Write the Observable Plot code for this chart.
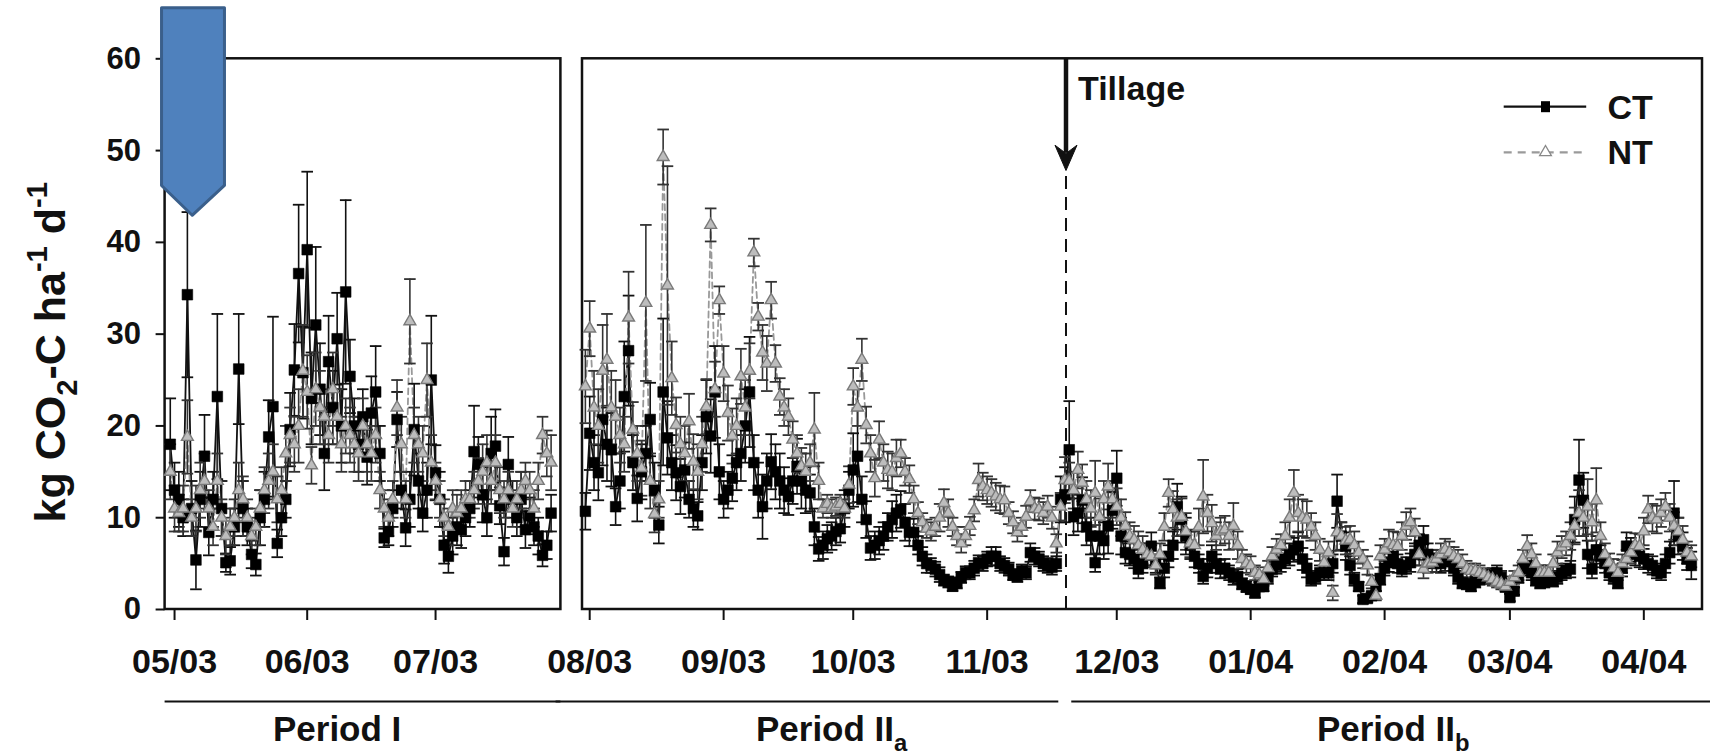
<!DOCTYPE html>
<html>
<head>
<meta charset="utf-8">
<script src="https://cdn.jsdelivr.net/npm/d3@7"></script>
<script src="https://cdn.jsdelivr.net/npm/@observablehq/plot@0.6"></script>
<style>
html, body { margin: 0; padding: 0; background: #fff; }
#chart svg { display: block; }
</style>
</head>
<body>
<div id="chart"></div>
<script>
// ---------- data ----------
// Period I: [day since 2003-05-01, value, error]
const periodIBase = "2003-05-01";
const ctPeriodI = [[-1,18,5],[0,13,3],[1,12,3],[2,10,2],[3,34.3,9],[4,11,3],[5,5.4,3.2],[6,12,3],[7,16.7,4.5],[8,8.4,2.5],[9,12,3],[10,23.2,9],[11,11,3],[12,5.1,1],[13,5.3,1.5],[14,9,2],[15,26.2,6],[16,11,3],[17,9,2],[18,6,1.5],[19,4.9,1.2],[20,10,3],[21,12,3],[22,18.8,4],[23,22.1,9.8],[24,7.2,1.5],[25,10,2],[26,12,2],[27,19.6,4],[28,26.1,5],[29,36.6,7.5],[30,25.8,5],[31,39.2,8.5],[32,23,5],[33,31,8.5],[34,24,5],[35,17,4],[36,27,5],[37,22,4],[38,29.5,5],[39,20,4],[40,34.6,10],[41,25.4,4],[42,20,3],[43,18,3],[44,21,3],[45,16.6,3],[46,21.4,4],[47,23.7,5],[48,17,3],[49,7.8,1],[50,8.5,1.5],[51,11,2],[52,20.7,3],[53,13,2],[54,8.9,2],[55,12,3],[56,19.6,5],[57,14,3],[58,10.5,2],[59,13,3],[60,25,7],[61,14.9,3],[62,12,3],[63,7,2],[64,5.8,1.8],[65,8,2],[66,9,2],[67,8.7,2],[68,10,2],[69,11,2],[70,17.2,5],[71,15.8,3],[72,12.5,3],[73,10,2],[74,17,4],[75,17.8,4],[76,11.3,2],[77,6.3,1.5],[78,15.8,3],[79,12,2],[80,10,2],[81,12,3],[82,8.7,2],[83,10.2,2],[84,9,2],[85,8,2],[86,5.9,1.2],[87,7,1.5],[88,10.5,2]];
const ntPeriodI = [[-1,15,3],[0,11,2.5],[1,10.5,2],[2,11,2.5],[3,18.8,4],[4,10,2],[5,11,2.5],[6,13,3],[7,14,3],[8,11,2],[9,9,2],[10,14,3],[11,10,2],[12,8,2],[13,9,2],[14,10,2],[15,13,3],[16,12,2.5],[17,10,2],[18,8,2],[19,9,2],[20,11,2],[21,13,2.5],[22,14,3],[23,15,3],[24,12,2.5],[25,13,2.5],[26,17,3],[27,19,3],[28,18,3],[29,20,4],[30,26,5],[31,23.7,4],[32,15.7,2],[33,24,4],[34,22,4],[35,21,3],[36,19,3],[37,24,4],[38,21,3],[39,18,3],[40,20,3],[41,19,3],[42,18,3],[43,17,3],[44,20,3],[45,18,3],[46,17,3],[47,19,3],[48,13,2],[49,11,2],[50,10,2],[51,12,2],[52,22,3],[53,18,3],[54,12,2],[55,31.4,4.6],[56,19,3],[57,18,3],[58,17,3],[59,25,4],[60,16,3],[61,14,2],[62,12,2],[63,10,2],[64,9,2],[65,11,2],[66,10.5,2],[67,11,2],[68,12,2],[69,12,2],[70,13,2],[71,14,2.5],[72,15,3],[73,16,3],[74,14,2.5],[75,16,3],[76,13,2.5],[77,12,2],[78,13,2],[79,11,2],[80,12,2],[81,13,2],[82,14,2],[83,13,2],[84,11,2],[85,14,2],[86,19,2],[87,17,2.5],[88,16,3]];

// Period II: [day since 2003-08-01, value, error]
const periodIIBase = "2003-08-01";
const ctPeriodII = [[-1,10.7,2],[0,19.2,4],[1,16,3],[2,14.9,3],[3,20.7,5],[4,18,4],[5,17.4,4],[6,11.2,2],[7,14,3],[8,23.2,6],[9,28.2,6],[10,16,3],[11,12.1,2.5],[12,15,3],[13,17,3],[14,20.7,4],[15,13,3],[16,9.2,2],[17,23.7,8],[18,18.7,4],[19,16,3],[20,14.9,3],[21,13.4,3],[22,15.2,3],[23,12,2],[24,11,2],[25,10.2,1.5],[26,16,3],[27,21,4],[28,18.9,4],[29,23.7,5],[30,15,3],[31,12,2],[32,13,2],[33,14.3,2.5],[34,16,3],[35,17,3],[36,20,4],[37,23.7,6],[38,16,3],[39,13,3],[40,11.2,3.5],[41,14,3],[42,16.1,3],[43,15,3],[44,14,3],[45,13,2.5],[46,12.3,2],[47,14,2.5],[48,15.6,3],[49,14,3],[50,13,2.5],[51,12.7,2],[52,9,2],[53,6.6,1.3],[54,7,1.5],[55,7.7,1.5],[56,8,1.5],[57,8.5,1.5],[58,8.8,1.5],[59,11,2],[60,13,2],[61,15.2,4],[62,16.7,5],[63,12,2.5],[64,9.8,2],[65,6.7,1.3],[66,7,1.5],[67,7.5,1.5],[68,8,1.5],[69,9,1.5],[70,9.8,2],[71,10.5,2],[72,10.9,2],[73,9.5,2],[74,8.4,1.5],[75,8.4,1.5],[76,7,1],[77,5.8,1],[78,5,1],[79,4.8,0.8],[80,4.4,0.8],[81,3.8,0.8],[82,3.2,0.6],[83,3,0.6],[84,2.6,0.6],[85,2.9,0.6],[86,3.5,0.6],[87,4,0.7],[88,4,0.7],[89,4.5,0.8],[90,5.1,0.8],[91,5,0.8],[92,5.5,0.8],[93,5.8,1],[94,5.8,1],[95,5,0.8],[96,4.8,0.8],[97,4.4,0.7],[98,3.8,0.6],[99,3.6,0.6],[100,4.2,0.7],[101,4,0.7],[102,6.2,1],[103,5.8,0.9],[104,5.5,0.8],[105,5,0.8],[106,4.8,0.8],[107,4.6,0.8],[108,5,0.8],[109,12,2.5],[110,12.5,3],[111,17.4,5.3],[112,10.1,2],[113,10.5,2],[114,11.9,2.5],[115,9,2],[116,8,2],[117,5.1,1],[118,8,2],[119,7.5,2],[120,9.1,3],[121,10.8,2],[122,14.3,3],[123,8,2],[124,6.2,1.2],[125,6,1.2],[126,5.5,1],[127,4.4,1],[128,5,1],[129,6,1.2],[130,6.9,1.5],[131,5,1],[132,2.9,0.6],[133,4.5,1],[134,5.8,1.2],[135,7,1.5],[136,11.2,2.5],[137,9.8,2.5],[138,8,2],[139,7,1.5],[140,5.8,1.2],[141,5,1],[142,3.6,0.8],[143,4.5,1],[144,5.8,1.2],[145,5,1],[146,4.4,1],[147,4.5,1],[148,4,0.8],[149,3.5,0.8],[150,3.6,0.8],[151,2.8,0.6],[152,2.5,0.6],[153,2.2,0.5],[154,1.8,0.5],[155,2.5,0.5],[156,2.5,0.5],[157,3.5,0.7],[158,4.4,0.8],[159,4.8,0.9],[160,5.1,1],[161,5.5,1],[162,6,1.2],[163,6.5,1.3],[164,6.9,1.5],[165,5.5,1.2],[166,4.5,1],[167,3.3,0.7],[168,3.5,0.7],[169,4,0.8],[170,4,0.8],[171,4,0.8],[172,5,1],[173,11.8,2.9],[174,8,1.5],[175,6.9,1.5],[176,4.8,1],[177,3.3,0.7],[178,2.5,0.5],[179,1.1,0.4],[180,1.2,0.4],[181,1.5,0.4],[182,2.5,0.5],[183,3.3,0.6],[184,4.5,0.8],[185,5.1,1],[186,5.8,1],[187,5,1],[188,4.4,0.8],[189,4.8,0.9],[190,5.1,1],[191,6,1.2],[192,7,1.2],[193,7.6,1.5],[194,6,1.2],[195,5.5,1],[196,5.1,1],[197,5,1],[198,5.2,1],[199,5.8,1],[200,4.5,0.8],[201,3.5,0.7],[202,2.9,0.6],[203,2.8,0.6],[204,2.5,0.5],[205,3,0.6],[206,3.3,0.6],[207,3.6,0.7],[208,3.5,0.7],[209,3.8,0.7],[210,4,0.8],[211,3.5,0.7],[212,2.5,0.5],[213,1.3,0.4],[214,2,0.4],[215,3.5,0.6],[216,4.5,0.8],[217,4.8,0.9],[218,4,0.8],[219,3.2,0.6],[220,2.9,0.6],[221,3,0.6],[222,3.2,0.6],[223,3.1,0.6],[224,3.5,0.7],[225,4,0.8],[226,4.2,0.8],[227,4.4,0.9],[228,9.8,2.5],[229,14.1,4.4],[230,11.9,3],[231,6,1.5],[232,4.4,1],[233,6.5,1.5],[234,5.8,1.2],[235,5,1],[236,4,0.8],[237,3.5,0.7],[238,2.9,0.6],[239,4.5,0.9],[240,6.9,1.5],[241,6.5,1.3],[242,6,1.2],[243,5.8,1.2],[244,5.5,1.1],[245,5,1],[246,4.8,1],[247,4.2,0.8],[248,4,0.8],[249,5,1],[250,6.2,1.2],[251,10.5,3.5],[252,8,2],[253,6.9,1.5],[254,5.5,1.2],[255,4.8,1.5]];
const ntPeriodII = [[-1,24.3,4],[0,30.6,3],[1,22,4],[2,20,4],[3,26,5],[4,27.2,5],[5,22,4],[6,21,4],[7,19,3],[8,18,3],[9,31.8,5],[10,19.6,3],[11,17,3],[12,15.4,3],[13,33.4,8.5],[14,14,3],[15,10.4,2],[16,12,2],[17,49.3,3],[18,35.3,13],[19,25.2,4],[20,20.1,3],[21,18,3],[22,17,3],[23,20.5,3],[24,16.1,3],[25,15,3],[26,18,3],[27,22.1,3],[28,41.9,1.8],[29,24,3],[30,33.7,1.5],[31,25.7,3],[32,21.4,3],[33,18.9,3],[34,20,3],[35,25.4,3],[36,22,3],[37,26,3],[38,38.9,1.5],[39,31.9,1.5],[40,28,3],[41,26.8,3],[42,33.7,2],[43,26.8,2],[44,23.2,2],[45,22,2],[46,21,2],[47,18.5,2],[48,17,2],[49,15.6,2],[50,15,2],[51,16,2],[52,19.6,4],[53,14,2],[54,11,1],[55,11.5,1],[56,11,1],[57,11.2,1],[58,11.5,1],[59,11,1],[60,13.6,2],[61,24.3,2],[62,22,2],[63,27.2,2.3],[64,20.1,2],[65,17,2],[66,14.3,2],[67,18.5,2],[68,16,2],[69,15.2,2],[70,15,2],[71,16.5,2],[72,17,1.5],[73,15,1.5],[74,14.2,1.5],[75,12,1.5],[76,10.5,1.2],[77,9.5,1],[78,8.8,1],[79,8.5,1],[80,9,1],[81,10,1.5],[82,11.6,1.5],[83,10.5,1.5],[84,9,1],[85,8,1],[86,7.2,1],[87,8,1],[88,9.1,1],[89,10.8,1.2],[90,14.1,1.8],[91,13.4,1.5],[92,13,1.5],[93,12.7,1.5],[94,12.3,1.5],[95,12,1.5],[96,11.9,1.5],[97,10.5,1.2],[98,9.5,1.2],[99,8.4,1],[100,9,1],[101,10.1,1.2],[102,11.8,1.2],[103,11,1.2],[104,10.9,1.2],[105,10.5,1.2],[106,11.2,1.2],[107,10,1.2],[108,7.2,1],[109,11.2,1.5],[110,14.1,2.5],[111,14,2],[112,13,2],[113,15.2,2],[114,13.8,2],[115,12,2],[116,11,2],[117,12.7,3.5],[118,10.1,2],[119,12,2],[120,13.4,2.5],[121,12,2],[122,11.2,2],[123,10,2],[124,9.1,1.5],[125,8,1.5],[126,7.6,1.5],[127,7,1.5],[128,6.5,1.5],[129,6,1.2],[130,5.8,1.2],[131,4.8,1],[132,6,1.2],[133,9,1.5],[134,12.7,1.5],[135,10.9,2],[136,10,2],[137,10.1,2],[138,8.5,2],[139,7.2,1.5],[140,7,1.5],[141,9,2],[142,12.3,4],[143,10.5,2],[144,9.4,2],[145,8,1.5],[146,8.5,1.5],[147,8.7,1.5],[148,8,1.5],[149,9.1,2.5],[150,7,1.5],[151,5.5,1],[152,5,1],[153,4.8,1],[154,4,0.8],[155,3.8,0.8],[156,3.3,0.7],[157,4.5,0.8],[158,5.8,1],[159,6.5,1.2],[160,7,1.2],[161,8,1.5],[162,10,2],[163,12.7,2.5],[164,10.5,2],[165,10,2],[166,9.8,2],[167,9,1.5],[168,8,1.5],[169,6.5,1.2],[170,5.1,1],[171,6.2,1.2],[172,1.8,0.8],[173,8.4,2],[174,8,1.5],[175,7.5,1.5],[176,7.6,1.5],[177,7,1.5],[178,6.2,1.2],[179,5.5,1],[180,4.8,1],[181,3,0.7],[182,1.5,0.5],[183,5.8,1.2],[184,6.5,1.2],[185,7.2,1.5],[186,7,1.5],[187,6.9,1.5],[188,8,1.5],[189,9.1,1.5],[190,9.5,1.5],[191,8.4,1.5],[192,6,1.2],[193,4.4,1],[194,5,1],[195,5.1,1],[196,5.5,1],[197,6,1.2],[198,6.5,1.2],[199,6.2,1.2],[200,5.8,1],[201,5.5,1],[202,5,1],[203,4.4,0.9],[204,4.2,0.8],[205,4.2,0.8],[206,4,0.8],[207,3.8,0.7],[208,3.5,0.7],[209,3.3,0.7],[210,3,0.6],[211,2.8,0.6],[212,2.5,0.6],[213,3,0.6],[214,3.5,0.7],[215,4,0.8],[216,5.5,1],[217,6.9,1.2],[218,6,1.2],[219,5,1],[220,4,0.8],[221,4,0.8],[222,4,0.8],[223,5,1],[224,6.2,1.2],[225,6.8,1.2],[226,7.2,1.3],[227,8,1.5],[228,9.1,2],[229,10.5,2.5],[230,10,2],[231,11.2,3],[232,9.5,2],[233,11.9,3.5],[234,8,1.5],[235,6,1.2],[236,5.1,1],[237,4.5,1],[238,4,0.8],[239,5,1],[240,5.5,1],[241,6.2,1.2],[242,7,1.3],[243,6.9,1.3],[244,8.5,1.5],[245,10.9,1.5],[246,10,1.5],[247,9.8,1.5],[248,10.5,1.5],[249,11.2,1.5],[250,10,1.5],[251,9.1,1.5],[252,8.5,1.5],[253,7.6,1.5],[254,6.2,1.2],[255,5.8,1.2]];

const seriesNames = ["CT", "NT"];
const yTicks = [0, 10, 20, 30, 40, 50, 60];
const monthTicks = ["2003-05-01","2003-06-01","2003-07-01","2003-08-01","2003-09-01","2003-10-01","2003-11-01","2003-12-01","2004-01-01","2004-02-01","2004-03-01","2004-04-01"];
const yTitle = "kg CO_{2}-C ha^{-1} d^{-1}";
const tillageDate = "2003-11-19T06:00Z";
const tillageLabel = "Tillage";
const periodNames = ["Period I", "Period II_{a}", "Period II_{b}"];
const periodStarts = ["2003-04-28T19:00Z", "2003-07-29T04:00Z", "2003-11-20T14:00Z"];
const periodEnds = ["2003-07-30T07:00Z", "2003-11-17T14:00Z", "2004-04-16T14:00Z"];
const periodLabelDates = ["2003-06-08", "2003-09-26", "2004-02-03"];
// panel frames (axis break between the two panels)
const panelStarts = ["2003-04-28T19:00Z", "2003-07-30T08:00Z"];
const panelEnds = ["2003-07-30T07:00Z", "2004-04-14T14:00Z"];
// blue callout arrow (annotation) in data coordinates
const calloutDates = ["2003-04-27T23:00Z", "2003-05-12T16:00Z", "2003-05-12T16:00Z", "2003-05-05T03:00Z", "2003-04-27T23:00Z"];
const calloutValues = [65.56, 65.56, 46.2, 42.95, 46.2];

// ---------- build tables ----------
const toDate = s => new Date(s.length === 10 ? s + "T00:00Z" : s);
function rows(arr, base, series, period) {
  const b = toDate(base);
  return arr.map(([d, v, e]) => ({date: d3.utcDay.offset(b, d), value: v, err: e, series, period}));
}
const ct = [...rows(ctPeriodI, periodIBase, "CT", "I"), ...rows(ctPeriodII, periodIIBase, "CT", "II")];
const nt = [...rows(ntPeriodI, periodIBase, "NT", "I"), ...rows(ntPeriodII, periodIIBase, "NT", "II")];
const panels = panelStarts.map((s, i) => ({start: toDate(s), end: toDate(panelEnds[i])}));
const periods = periodNames.map((n, i) => ({name: n, start: toDate(periodStarts[i]), end: toDate(periodEnds[i]), mid: toDate(periodLabelDates[i])}));
const callout = calloutDates.map((d, i) => ({date: toDate(d), value: calloutValues[i]}));
const tillage = toDate(tillageDate);

// custom symbols
const capSymbol = {draw(ctx, size) { const w = Math.sqrt(size / Math.PI); ctx.moveTo(-w, 0); ctx.lineTo(w, 0); }};
const headSymbol = {draw(ctx, size) {
  const r = Math.sqrt(size / Math.PI);
  ctx.moveTo(0, 0); ctx.lineTo(-r, -2.3 * r); ctx.lineTo(0, -1.55 * r); ctx.lineTo(r, -2.3 * r); ctx.closePath();
}};
const font = "'Liberation Sans', Arial, Helvetica, sans-serif";

const plot = Plot.plot({
  width: 1710,
  height: 755,
  marginLeft: 164.6,
  marginRight: 8,
  marginTop: 58.3,
  marginBottom: 146,
  style: {fontFamily: font, background: "#fff", color: "#111"},
  x: {type: "utc", domain: [panels[0].start, panels[0].end, panels[1].start, panels[1].end], range: [164.6, 560.4, 582, 1702], label: null},
  y: {domain: [0, 60], label: null},
  marks: [
    Plot.rect(panels, {x1: "start", x2: "end", y1: 0, y2: 60, fill: "none", stroke: "#111", strokeWidth: 2.5}),
    Plot.axisY({ticks: yTicks, tickSize: 9, tickPadding: 15, fontSize: 31, fontWeight: "bold", strokeWidth: 2, label: null}),
    Plot.axisX(monthTicks.map(toDate), {tickSize: 11, tickPadding: 28, tickFormat: d3.utcFormat("%m/%y"), fontSize: 34, fontWeight: "bold", strokeWidth: 2, label: null}),
    Plot.ruleY(periods, {x1: "start", x2: "end", y: -10.02, stroke: "#111", strokeWidth: 2}),
    Plot.text(periods, {x: "mid", y: -13.15, text: "name", fontSize: 35, fontWeight: "bold"}),
    Plot.text([yTitle], {frameAnchor: "left", dx: -114, y: 28.03, text: d => d, rotate: -90, textAnchor: "middle", fontSize: 43, fontWeight: "bold"}),
    // tillage marker
    Plot.ruleX([tillage], {y1: 0, y2: 47.83, stroke: "#111", strokeWidth: 2, strokeDasharray: "13,8"}),
    Plot.ruleX([tillage], {y1: 60, y2: 49.7, stroke: "#111", strokeWidth: 4.5}),
    Plot.dot([tillage], {x: d => d, y: 47.83, symbol: headSymbol, r: 11, fill: "#111", stroke: "#111", strokeWidth: 1}),
    Plot.text([tillageLabel], {x: () => tillage, y: 56.66, text: d => d, dx: 12, textAnchor: "start", fontSize: 34, fontWeight: "bold"}),
    // series lines
    Plot.line(ct, {x: "date", y: "value", z: "period", stroke: "#111", strokeWidth: 1.8}),
    Plot.line(nt, {x: "date", y: "value", z: "period", stroke: "#999", strokeWidth: 1.8, strokeDasharray: "6,4"}),
    // error bars
    Plot.ruleX(ct, {x: "date", y1: d => d.value - d.err, y2: d => d.value + d.err, stroke: "#111", strokeWidth: 1.6}),
    Plot.dot(ct, {x: "date", y: d => d.value + d.err, symbol: capSymbol, r: 5.8, stroke: "#111", strokeWidth: 1.8}),
    Plot.dot(ct, {x: "date", y: d => d.value - d.err, symbol: capSymbol, r: 5.8, stroke: "#111", strokeWidth: 1.8}),
    Plot.ruleX(nt, {x: "date", y1: d => d.value - d.err, y2: d => d.value + d.err, stroke: "#333", strokeWidth: 1.6}),
    Plot.dot(nt, {x: "date", y: d => d.value + d.err, symbol: capSymbol, r: 5.8, stroke: "#333", strokeWidth: 1.8}),
    Plot.dot(nt, {x: "date", y: d => d.value - d.err, symbol: capSymbol, r: 5.8, stroke: "#333", strokeWidth: 1.8}),
    // markers
    Plot.dot(ct, {x: "date", y: "value", symbol: "square", r: 6, fill: "#000", stroke: "#000", strokeWidth: 0.6}),
    Plot.dot(nt, {x: "date", y: "value", symbol: "triangle", r: 4.4, fill: "#bdbdbd", stroke: "#7a7a7a", strokeWidth: 1.4}),
    // callout arrow annotation
    Plot.line(callout, {x: "date", y: "value", curve: "linear-closed", fill: "#4F81BD", stroke: "#3A5F8B", strokeWidth: 3})
  ]
});

document.getElementById("chart").appendChild(plot);

// ---------- rich text (subscripts / superscripts) ----------
const NS = "http://www.w3.org/2000/svg";
function richify(el) {
  const s = el.textContent;
  if (!/[_^]\{/.test(s)) return;
  const fs = parseFloat(getComputedStyle(el).fontSize) || 30;
  while (el.firstChild) el.removeChild(el.firstChild);
  const re = /([_^])\{([^}]*)\}|([^_^]+)/g;
  let m, shift = 0;
  while ((m = re.exec(s))) {
    const t = document.createElementNS(NS, "tspan");
    if (m[1]) {
      const target = m[1] === "_" ? 0.28 * fs : -0.42 * fs;
      t.setAttribute("dy", (target - shift).toFixed(2));
      t.setAttribute("font-size", (0.68 * fs).toFixed(1));
      t.textContent = m[2];
      shift = target;
    } else {
      if (shift !== 0) t.setAttribute("dy", (-shift).toFixed(2));
      shift = 0;
      t.textContent = m[3];
    }
    el.appendChild(t);
  }
}
plot.querySelectorAll("text").forEach(richify);

// ---------- legend ----------
const svg = d3.select(plot);
const lg = svg.append("g").attr("font-family", font).attr("font-weight", "bold").attr("font-size", 34)
  .attr("fill", "#111").attr("text-anchor", "start");
const legendRows = [
  {name: seriesNames[0], y: 106.7},
  {name: seriesNames[1], y: 152.3}
];
legendRows.forEach((r, i) => {
  lg.append("line").attr("x1", 1503.7).attr("x2", 1586.2).attr("y1", r.y).attr("y2", r.y)
    .attr("stroke", i === 0 ? "#111" : "#9a9a9a").attr("stroke-width", 2.2)
    .attr("stroke-dasharray", i === 0 ? null : "8,6");
  if (i === 0) {
    lg.append("rect").attr("x", 1545.5 - 4.5).attr("y", r.y - 5.5).attr("width", 9).attr("height", 11).attr("fill", "#000");
  } else {
    lg.append("path").attr("d", d3.symbol(d3.symbolTriangle, 60)()).attr("transform", `translate(1545.5,${r.y})`)
      .attr("fill", "#fff").attr("stroke", "#888").attr("stroke-width", 1.3);
  }
  lg.append("text").attr("x", 1607.5).attr("y", r.y).attr("dy", "0.35em").attr("text-anchor", "start").text(r.name);
});
</script>
</body>
</html>
